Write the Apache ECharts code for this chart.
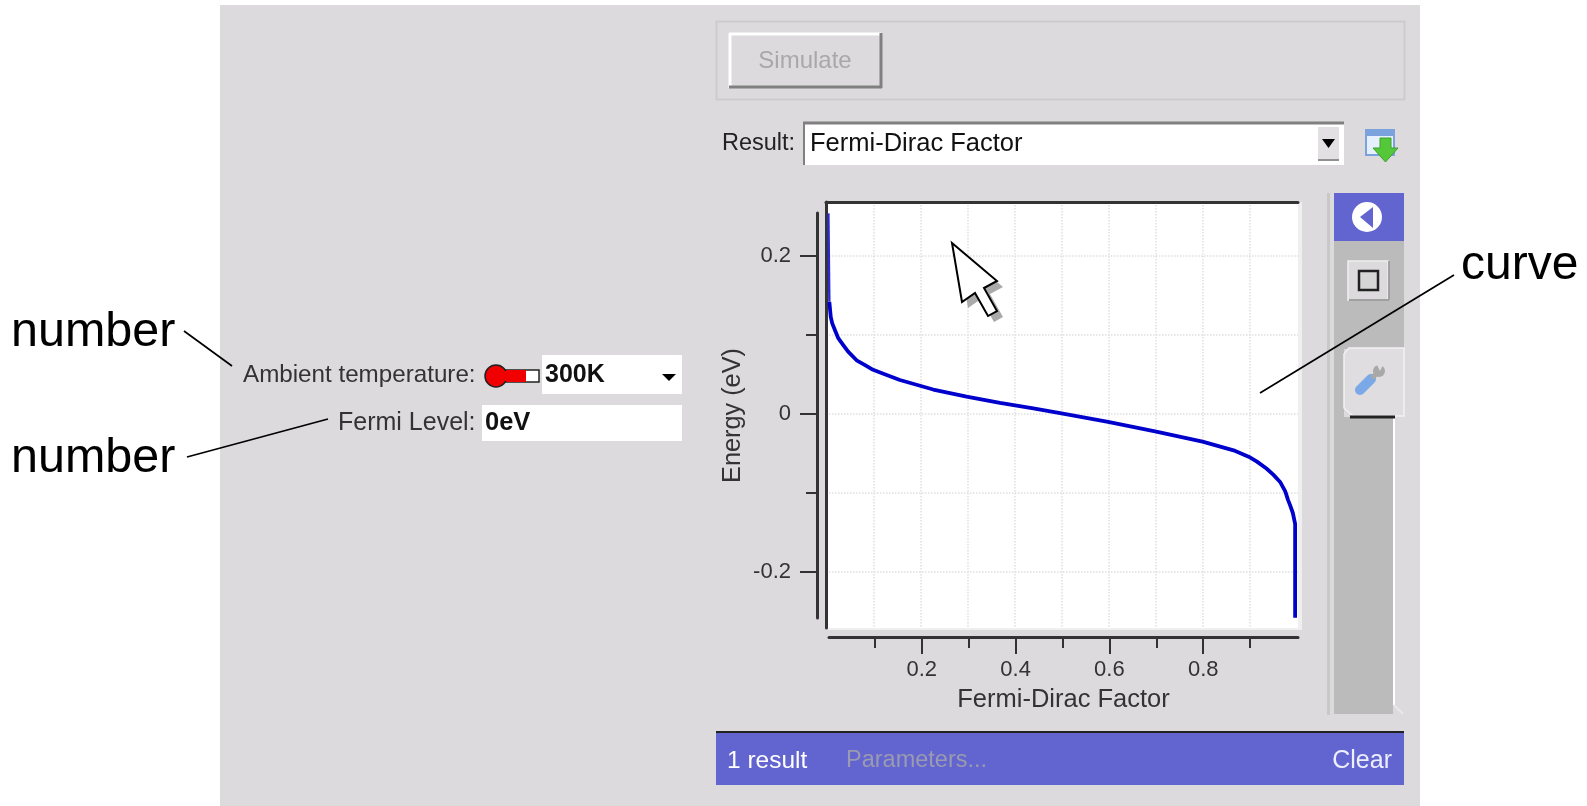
<!DOCTYPE html>
<html><head><meta charset="utf-8">
<script src="https://cdn.jsdelivr.net/npm/echarts@6/dist/echarts.min.js"></script>
<style>html,body{margin:0;padding:0;background:#fff}#c{width:1587px;height:806px}</style>
</head><body><div id="c"></div>
<script>
const fermiFactor = [0.003,0.005,0.008,0.011,0.017,0.024,0.035,0.045,0.063,0.081,0.098,0.120,0.155,0.226,0.297,0.368,0.439,0.496,0.598,0.698,0.799,0.865,0.897,0.914,0.935,0.950,0.964,0.975,0.981,0.985,0.991,0.996,0.996];
const energyEv    = [0.254,0.142,0.123,0.115,0.106,0.096,0.087,0.079,0.068,0.062,0.056,0.051,0.043,0.031,0.022,0.014,0.007,0.001,-0.010,-0.022,-0.035,-0.046,-0.054,-0.060,-0.069,-0.077,-0.086,-0.098,-0.109,-0.115,-0.125,-0.139,-0.258];
const xMajorTicks = [0.2,0.4,0.6,0.8];
const xMinorTicks = [0.1,0.3,0.5,0.7,0.9];
const yMajorTicks = [-0.2,0,0.2];
const yMinorTicks = [-0.1,0.1];
const xGridValues = [0.1,0.2,0.3,0.4,0.5,0.6,0.7,0.8,0.9];
const yGridValues = [-0.2,-0.1,0,0.1,0.2];
const xAxisTitle = 'Fermi-Dirac Factor';
const yAxisTitle = 'Energy (eV)';

const FONT = '"Liberation Sans", Arial, sans-serif';
const INK = '#333333', PANEL = '#dcdadd', BLUE = '#6264cf', SIDE = '#bbbbbb';
const rect = (x,y,w,h,fill,extra={}) => ({type:'rect',shape:{x,y,width:w,height:h},style:{fill,stroke:extra.stroke||null,lineWidth:extra.lw||0},z:extra.z??-5});
const line = (x1,y1,x2,y2,stroke,lw=2,z=-4,cap='butt') => ({type:'line',shape:{x1,y1,x2,y2},style:{stroke,lineWidth:lw,lineCap:cap},z});
const poly = (points,fill,stroke,lw=0,z=-3) => ({type:'polygon',shape:{points},style:{fill,stroke,lineWidth:lw},z});
const text = (x,y,t,size,fill=INK,opt={}) => ({type:'text',x,y,z:opt.z??-2,style:{text:t,fontSize:size,fontFamily:FONT,fontWeight:opt.weight||'normal',fill,align:opt.align||'left',verticalAlign:'middle'}});

const graphics = [
  rect(220,5,1200,801,PANEL,{z:-10}),
  // simulate frame and button
  rect(716.5,21.5,688,78,'none',{stroke:'#cbcbcd',lw:2}),
  line(729,34,881,34,'#ffffff',3), line(730,33,730,88,'#ffffff',3),
  line(881,33,881,88,'#808080',3), line(729,87,882,87,'#808080',3),
  text(805,61.5,'Simulate',24,'#a8a8aa',{align:'center'}),
  // result row
  text(722,143.5,'Result:',23.5,'#222'),
  rect(803,122,541,43,'#ffffff'),
  line(803,123,1344,123,'#808080',3), line(804,122,804,165,'#808080',2),
  rect(1318,127,21,34,'#e2e0e3'),
  line(1318,160,1339,160,'#909090',2),
  poly([[1322,139],[1335,139],[1328.5,148]],'#000',null),
  text(810,143.5,'Fermi-Dirac Factor',25.5,'#111'),
  rect(1366,130,28,25,'#e6f0fc',{stroke:'#7aa2dc',lw:2}),
  rect(1366,130,28,6,'#7aa2dc'),
  poly([[1380,138],[1391,138],[1391,148],[1398,148],[1385.5,162],[1373,148],[1380,148]],'#55c83a','#3aa02a',1),
  // left controls
  text(243,375,'Ambient temperature:',24.2,'#333'),
  text(338,423,'Fermi Level:',25,'#333'),
  rect(542,355,140,39,'#ffffff'),
  rect(482,405,200,36,'#ffffff'),
  text(545,375,'300K',25,'#111',{weight:'bold'}),
  text(485,423,'0eV',25.5,'#111',{weight:'bold'}),
  poly([[662,374],[676,374],[669,381]],'#000',null),
  rect(505,370,34,12,'#ffffff',{stroke:'#222',lw:1.5}),
  rect(505,370,21,12,'#f00000'),
  {type:'circle',shape:{cx:496,cy:376,r:11},style:{fill:'#f00000',stroke:'#222',lineWidth:1.5},z:-3},
  rect(500,371,26,10,'#f00000',{z:-2}),
  // plot edge
  rect(826,202,476,428,'#efefef',{z:-6}),
  // right side bar
  rect(1327,193,3,522,'#c8c8c8'),
  rect(1334,193,70,48,BLUE),
  rect(1334,241,70,108,SIDE),
  rect(1334,349,10,68,SIDE),
  rect(1334,417,59,297,SIDE),
  line(1394,417,1394,705,'#ffffff',2),
  line(1394,705,1403,714,'#e8e8e8',2),
  {type:'circle',shape:{cx:1367,cy:217,r:15},style:{fill:'#ffffff'},z:-3},
  poly([[1373,207],[1373,228],[1360,217]],BLUE,null,0,-2),
  rect(1348,261,40,39,'#dcdadd',{stroke:'#f0f0f0',lw:1.5}),
  line(1349,300,1389,300,'#a0a0a0',2), line(1389,261,1389,300,'#a0a0a0',2),
  rect(1359,271,19,19,'#d6d6d6',{stroke:'#222',lw:2.5,z:-3}),
  poly([[1349,348],[1404,348],[1404,416],[1353,416],[1344,408],[1344,354]],'#dfdde0','#f2f2f2',1.5,-4),
  line(1350,417,1395,417,'#222',3),
  line(1360,390,1371,379,'#7ba8e6',10,-3,'round'),
  line(1372,378,1379,371,'#a8a8a8',5,-3),
  {type:'circle',shape:{cx:1379,cy:371,r:6},style:{fill:'#a8a8a8'},z:-3},
  poly([[1376,363],[1384,363],[1380,371]],'#dfdde0',null,0,-2),
  // bottom status bar
  rect(716,731,688,54,BLUE),
  line(716,732,1404,732,'#222',2),
  text(727,761,'1 result',24.5,'#ffffff'),
  text(846,761,'Parameters...',23.5,'#9a9ab0'),
  text(1392,761,'Clear',25,'#eeeeff',{align:'right'}),
  // cursor
  poly([[958,249],[1003,287],[990,294],[1003,317],[994,322],[981,299],[968,308]],'#aaaaaa',null,0,40),
  poly([[952,243],[997,281],[984,288],[997,311],[988,316],[975,293],[962,302]],'#ffffff','#000000',2,41),
  // annotations
  text(11,333,'number',48.5,'#000'),
  text(11,459,'number',48.5,'#000'),
  text(1461,266,'curve',48,'#000'),
  line(184,331,232,366,'#000',1.7,45),
  line(187,457,328,419,'#000',1.7,45),
  line(1454,275,1260,393,'#000',1.7,45)
];

const hide = {axisLine:{show:false},axisTick:{show:false},axisLabel:{show:false},splitLine:{show:false}};
const dark = {show:true,onZero:false,lineStyle:{color:'#333',width:3}};
const labelStyle = {color:INK,fontSize:22,fontFamily:FONT};
const gridLine = {show:true,lineStyle:{color:'#dfdfdf',type:'dotted',width:1.5}};
const xPlot = {min:-0.0021,max:1.0021};
const yPlot = {min:-0.2709,max:0.2684};
const xAxisSpan = {min:0.0021,max:1.0021};
const ySpan = {min:-0.2582,max:0.2544};

const chart = echarts.init(document.getElementById('c'),null,{renderer:'canvas'});
chart.setOption({
  animation:false,
  backgroundColor:'#ffffff',
  graphic:{elements:graphics},
  grid:[
    {left:826,top:202,width:472,height:426,show:true,backgroundColor:'#ffffff',borderWidth:0},
    {left:829,top:213,width:469,height:405,show:false}
  ],
  xAxis:[
    {type:'value',gridIndex:0,position:'top',...xPlot,...hide,axisLine:dark,axisTick:{show:false,customValues:xGridValues},axisLabel:{show:false},splitLine:gridLine},
    {type:'value',gridIndex:1,position:'bottom',offset:19,...xAxisSpan,axisLine:dark,
      axisTick:{show:true,length:17,lineStyle:{color:'#333',width:2},customValues:xMajorTicks},
      axisLabel:{show:true,margin:22,...labelStyle,customValues:xMajorTicks,formatter:v=>String(v)},splitLine:{show:false},
      name:xAxisTitle,nameLocation:'middle',nameGap:50,nameTextStyle:{color:INK,fontSize:25.5,fontFamily:FONT}},
    {type:'value',gridIndex:1,position:'bottom',offset:19,...xAxisSpan,axisLine:{show:false,onZero:false},
      axisTick:{show:true,length:11,lineStyle:{color:'#333',width:2},customValues:xMinorTicks},axisLabel:{show:false},splitLine:{show:false}}
  ],
  yAxis:[
    {type:'value',gridIndex:0,position:'left',...yPlot,...hide,axisLine:dark,axisTick:{show:false,customValues:yGridValues},axisLabel:{show:false},splitLine:gridLine},
    {type:'value',gridIndex:1,position:'left',offset:12,...ySpan,axisLine:dark,
      axisTick:{show:true,length:17,lineStyle:{color:'#333',width:2},customValues:yMajorTicks},
      axisLabel:{show:true,margin:26,...labelStyle,customValues:yMajorTicks,formatter:v=>String(v)},splitLine:{show:false},
      name:yAxisTitle,nameLocation:'middle',nameGap:71,nameRotate:90,nameTextStyle:{color:INK,fontSize:25.3,fontFamily:FONT}},
    {type:'value',gridIndex:1,position:'left',offset:12,...ySpan,axisLine:{show:false,onZero:false},
      axisTick:{show:true,length:11,lineStyle:{color:'#333',width:2},customValues:yMinorTicks},axisLabel:{show:false},splitLine:{show:false}}
  ],
  series:[
    {type:'line',xAxisIndex:0,yAxisIndex:0,showSymbol:false,symbol:'none',z:5,
      lineStyle:{color:'#2a2ad0',width:2.4},
      data:fermiFactor.slice(0,2).map((f,i)=>[f,energyEv[i]])},
    {type:'line',xAxisIndex:0,yAxisIndex:0,showSymbol:false,symbol:'none',z:5,
      lineStyle:{color:'#0000cc',width:3.8,join:'round'},
      data:fermiFactor.map((f,i)=>[f,energyEv[i]]).slice(1)}
  ]
});
</script></body></html>
